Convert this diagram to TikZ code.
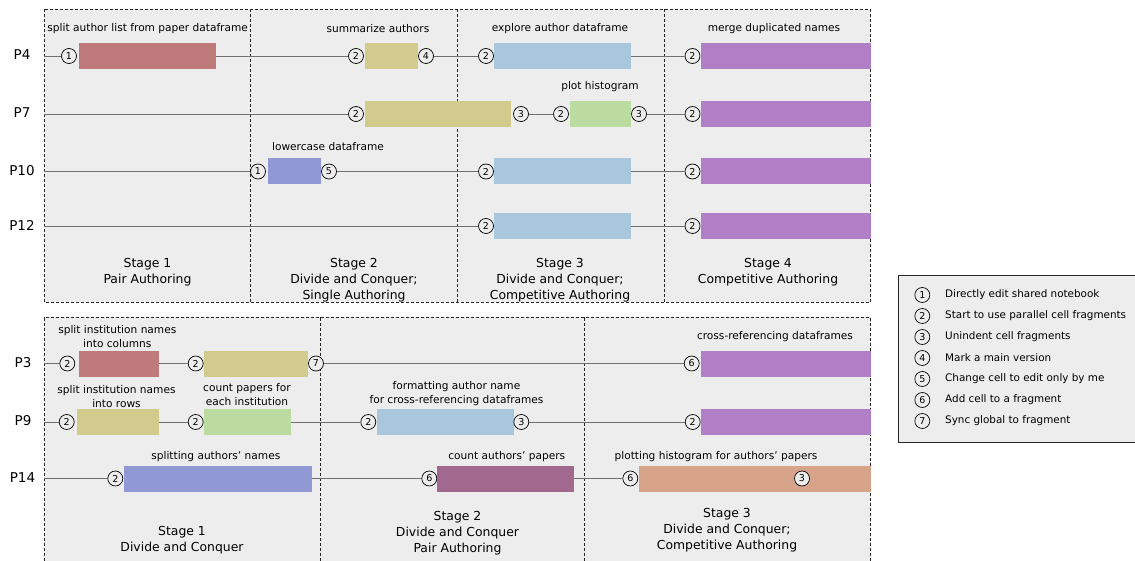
\documentclass[tikz,border=0pt]{standalone}
\usepackage{fontspec}
\setmainfont{DejaVu Sans}
\definecolor{bgc}{HTML}{EDEDED}
\definecolor{cred}{HTML}{BF7B7B}
\definecolor{cyel}{HTML}{D3CA8E}
\definecolor{cblu}{HTML}{A9C7DC}
\definecolor{cpur}{HTML}{B07FC6}
\definecolor{cgrn}{HTML}{BBDBA0}
\definecolor{cvio}{HTML}{9199D4}
\definecolor{cmau}{HTML}{A2698F}
\definecolor{csal}{HTML}{D7A48A}
\definecolor{tlc}{HTML}{707070}
\tikzset{
  panel/.style={fill=bgc, draw=black!85, line width=0.8pt, dash pattern=on 3pt off 2pt},
  divider/.style={draw=black!85, line width=0.8pt, dash pattern=on 3pt off 2pt},
  bar/.style={draw=none, minimum height=26pt, inner sep=0pt},
  ev/.style={circle, draw=black, line width=0.7pt, fill=bgc, inner sep=0pt, minimum size=15pt, font=\fontsize{9.5}{10}\selectfont},
  tl/.style={draw=tlc, line width=0.8pt},
  lab/.style={font=\fontsize{10.6}{14}\selectfont, align=center, inner sep=0pt},
  stg/.style={font=\fontsize{12.4}{16}\selectfont, align=center, inner sep=0pt, anchor=north},
  rowl/.style={font=\fontsize{13.5}{16}\selectfont, inner sep=0pt},
  leg/.style={font=\fontsize{10.4}{12}\selectfont, inner sep=0pt, anchor=west}
}
\begin{document}
\begin{tikzpicture}[x=1pt,y=-1pt]
\useasboundingbox (0,0) rectangle (1135,561);
% panels
\path[panel] (44,9.5) rectangle (870.5,302.5);
\draw[divider] (250.7,9.5) -- (250.7,302.5);
\draw[divider] (457.3,9.5) -- (457.3,302.5);
\draw[divider] (664,9.5) -- (664,302.5);
\path[panel] (44,317.5) rectangle (870.5,566);
\draw[divider] (320.7,317.5) -- (320.7,566);
\draw[divider] (584.3,317.5) -- (584.3,566);

% ===== top panel =====
\node[rowl] (p4) at (22,55) {P4};
\node[rowl] (p7) at (22,113) {P7};
\node[rowl] (p10) at (22,170.5) {P10};
\node[rowl] (p12) at (22,225) {P12};
\coordinate (s4) at (44,56);
\coordinate (s7) at (44,114);
\coordinate (s10) at (44,171.5);
\coordinate (s12) at (44,226);

% P4
\node[ev] (a1) at (69,56) {1};
\node[bar, fill=cred, minimum width=137pt] (ab1) at (147.5,56) {};
\node[ev] (a2) at (356,56) {2};
\node[bar, fill=cyel, minimum width=53pt] (ab2) at (391.5,56) {};
\node[ev] (a3) at (426,56) {4};
\node[ev] (a4) at (486,56) {2};
\node[bar, fill=cblu, minimum width=137pt] (ab3) at (562.5,56) {};
\node[ev] (a5) at (692.5,56) {2};
\node[bar, fill=cpur, minimum width=170pt] (ab4) at (786,56) {};
\draw[tl] (s4) -- (a1);
\draw[tl] (ab1) -- (a2);
\draw[tl] (a3) -- (a4);
\draw[tl] (ab3) -- (a5);

% P7
\node[ev] (b1) at (356,114) {2};
\node[bar, fill=cyel, minimum width=146pt] (bb1) at (438,114) {};
\node[ev] (b2) at (521,114) {3};
\node[ev] (b3) at (561,114) {2};
\node[bar, fill=cgrn, minimum width=61pt] (bb2) at (600.5,114) {};
\node[ev] (b4) at (639,114) {3};
\node[ev] (b5) at (692.5,114) {2};
\node[bar, fill=cpur, minimum width=170pt] (bb3) at (786,114) {};
\draw[tl] (s7) -- (b1);
\draw[tl] (b2) -- (b3);
\draw[tl] (b4) -- (b5);

% P10
\node[ev] (c1) at (258,171.5) {1};
\node[bar, fill=cvio, minimum width=53pt] (cb1) at (294.5,171.5) {};
\node[ev] (c2) at (329,171.5) {5};
\node[ev] (c3) at (486,171.5) {2};
\node[bar, fill=cblu, minimum width=137pt] (cb2) at (562.5,171.5) {};
\node[ev] (c4) at (692.5,171.5) {2};
\node[bar, fill=cpur, minimum width=170pt] (cb3) at (786,171.5) {};
\draw[tl] (s10) -- (c1);
\draw[tl] (c2) -- (c3);
\draw[tl] (cb2) -- (c4);

% P12
\node[ev] (d1) at (486,226) {2};
\node[bar, fill=cblu, minimum width=137pt] (db1) at (562.5,226) {};
\node[ev] (d2) at (692.5,226) {2};
\node[bar, fill=cpur, minimum width=170pt] (db2) at (786,226) {};
\draw[tl] (s12) -- (d1);
\draw[tl] (db1) -- (d2);

% labels top
\node[lab] (l1) at (147.7,29) {split author list from paper dataframe};
\node[lab] (l2) at (378,29) {summarize authors};
\node[lab] (l3) at (560,29) {explore author dataframe};
\node[lab] (l4) at (774,29) {merge duplicated names};
\node[lab] (l5) at (600,86.5) {plot histogram};
\node[lab] (l6) at (328,147) {lowercase dataframe};

\node[stg] (st1) at (147.5,258) {Stage 1\\Pair Authoring};
\node[stg] (st2) at (354,258) {Stage 2\\Divide and Conquer;\\Single Authoring};
\node[stg] (st3) at (560,258) {Stage 3\\Divide and Conquer;\\Competitive Authoring};
\node[stg] (st4) at (768,258) {Stage 4\\Competitive Authoring};

% ===== bottom panel =====
\node[rowl] (p3) at (23,362.5) {P3};
\node[rowl] (p9) at (23,421) {P9};
\node[rowl] (p14) at (22.5,478) {P14};
\coordinate (s3) at (44,363.5);
\coordinate (s9) at (44,422);
\coordinate (s14) at (44,478.5);

% P3
\node[ev] (e1) at (67.3,363.5) {2};
\node[bar, fill=cred, minimum width=80pt] (eb1) at (119,363.5) {};
\node[ev] (e2) at (195.7,363.5) {2};
\node[bar, fill=cyel, minimum width=103.7pt] (eb2) at (255.9,363.5) {};
\node[ev] (e3) at (316,363.5) {7};
\node[ev] (e4) at (691.7,363.5) {6};
\node[bar, fill=cpur, minimum width=170pt] (eb3) at (786,363.5) {};
\draw[tl] (s3) -- (e1);
\draw[tl] (eb1) -- (e2);
\draw[tl] (e3) -- (e4);

% P9
\node[ev] (f1) at (66.7,422) {2};
\node[bar, fill=cyel, minimum width=82pt] (fb1) at (118,422) {};
\node[ev] (f2) at (195.7,422) {2};
\node[bar, fill=cgrn, minimum width=87pt] (fb2) at (247.5,422) {};
\node[ev] (f3) at (368.3,422) {2};
\node[bar, fill=cblu, minimum width=137pt] (fb3) at (445.5,422) {};
\node[ev] (f4) at (521.3,422) {3};
\node[ev] (f5) at (692.7,422) {2};
\node[bar, fill=cpur, minimum width=170pt] (fb4) at (786,422) {};
\draw[tl] (s9) -- (f1);
\draw[tl] (fb1) -- (f2);
\draw[tl] (fb2) -- (f3);
\draw[tl] (f4) -- (f5);

% P14
\node[ev] (g1) at (115.3,478.5) {2};
\node[bar, fill=cvio, minimum width=187.7pt] (gb1) at (217.9,478.5) {};
\node[ev] (g2) at (429.3,478.5) {6};
\node[bar, fill=cmau, minimum width=137pt] (gb2) at (505.5,478.5) {};
\node[ev] (g3) at (630.3,478.5) {6};
\node[bar, fill=csal, minimum width=232pt] (gb3) at (755,478.5) {};
\node[ev] (g4) at (802,478.5) {3};
\draw[tl] (s14) -- (g1);
\draw[tl] (gb1) -- (g2);
\draw[tl] (gb2) -- (g3);

% labels bottom
\node[lab] (m1) at (117.3,337) {split institution names\\into columns};
\node[lab] (m2) at (116.5,396.3) {split institution names\\into rows};
\node[lab] (m3) at (247,394.3) {count papers for\\each institution};
\node[lab] (m4) at (456.5,393.7) {formatting author name\\for cross-referencing dataframes};
\node[lab] (m5) at (775,336.7) {cross-referencing dataframes};
\node[lab] (m6) at (215.8,456.3) {splitting authors’ names};
\node[lab] (m7) at (506.8,456.3) {count authors’ papers};
\node[lab] (m8) at (716,456.3) {plotting histogram for authors’ papers};

\node[stg] (su1) at (182,526.3) {Stage 1\\Divide and Conquer};
\node[stg] (su2) at (457.5,511.3) {Stage 2\\Divide and Conquer\\Pair Authoring};
\node[stg] (su3) at (727,508.3) {Stage 3\\Divide and Conquer;\\Competitive Authoring};

% ===== legend =====
\path[fill=bgc, draw=black!85, line width=0.8pt] (898,275.5) rectangle (1140,442);
\node[ev] (k1) at (922.3,295) {1};
\node[ev] (k2) at (922.3,316) {2};
\node[ev] (k3) at (922.3,337) {3};
\node[ev] (k4) at (922.3,358) {4};
\node[ev] (k5) at (922.3,379) {5};
\node[ev] (k6) at (922.3,400) {6};
\node[ev] (k7) at (922.3,421) {7};
\node[leg] (t1) at (945,295) {Directly edit shared notebook};
\node[leg] (t2) at (945,316) {Start to use parallel cell fragments};
\node[leg] (t3) at (945,337) {Unindent cell fragments};
\node[leg] (t4) at (945,358) {Mark a main version};
\node[leg] (t5) at (945,379) {Change cell to edit only by me};
\node[leg] (t6) at (945,400) {Add cell to a fragment};
\node[leg] (t7) at (945,421) {Sync global to fragment};
\end{tikzpicture}
\end{document}
